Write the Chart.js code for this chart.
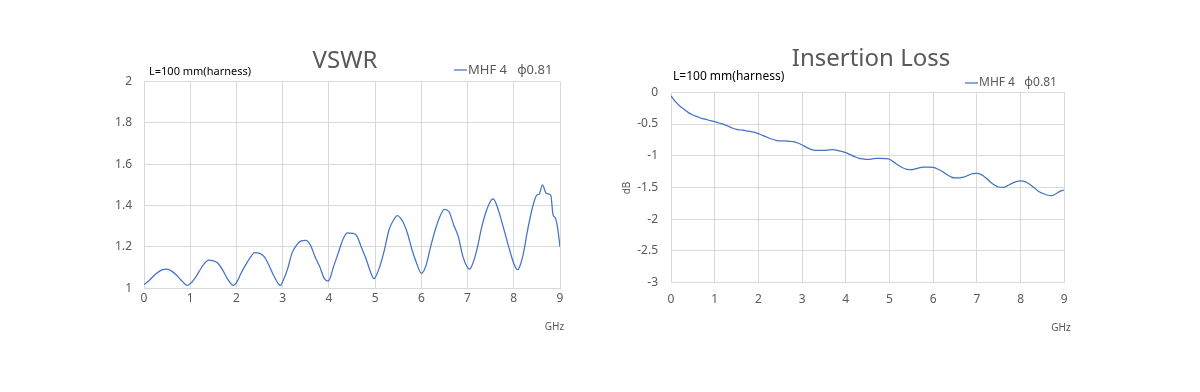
<!DOCTYPE html>
<html>
<head>
<meta charset="utf-8">
<script src="https://cdn.jsdelivr.net/npm/chart.js@4.4.1/dist/chart.umd.min.js"></script>
<style>
  body { margin: 0; background: #fff; }
  .box { position: absolute; top: 0; width: 600px; height: 392px; }
</style>
</head>
<body>
<div class="box" style="left:0"><canvas id="vswrChart" width="600" height="392"></canvas></div>
<div class="box" style="left:600px"><canvas id="lossChart" width="600" height="392"></canvas></div>
<script>
// VSWR (GHz / ratio)
const vswrFreq = [
  0, 0.1, 0.2, 0.3, 0.4, 0.5, 0.6, 0.7, 0.8, 0.9, 0.93,
  1.0, 1.1, 1.2, 1.3, 1.4, 1.5, 1.6, 1.7, 1.8, 1.9, 1.94,
  2.0, 2.1, 2.2, 2.3, 2.4, 2.5, 2.6, 2.7, 2.8, 2.9, 2.95,
  3.0, 3.1, 3.2, 3.3, 3.4, 3.5, 3.6, 3.7, 3.8, 3.9, 3.97,
  4.0, 4.1, 4.2, 4.3, 4.4, 4.5, 4.6, 4.7, 4.8, 4.9, 4.97,
  5.0, 5.1, 5.2, 5.3, 5.4, 5.48, 5.6, 5.7, 5.8, 5.9,
  6.0, 6.1, 6.2, 6.3, 6.4, 6.5, 6.6, 6.7, 6.8, 6.9,
  7.0, 7.04, 7.1, 7.2, 7.3, 7.4, 7.5, 7.55, 7.6, 7.7, 7.8, 7.9,
  8.0, 8.08, 8.1, 8.2, 8.3, 8.4, 8.5, 8.55, 8.62, 8.7, 8.8, 8.85, 8.9, 8.95, 9.0
];
const vswrValues = [
  1.018, 1.035, 1.058, 1.077, 1.090, 1.093, 1.083, 1.064, 1.040, 1.018, 1.014,
  1.022, 1.048, 1.084, 1.118, 1.136, 1.133, 1.121, 1.089, 1.048, 1.018, 1.014,
  1.027, 1.073, 1.113, 1.150, 1.172, 1.169, 1.153, 1.113, 1.064, 1.024, 1.013,
  1.032, 1.089, 1.169, 1.209, 1.229, 1.232, 1.209, 1.153, 1.105, 1.048, 1.036,
  1.038, 1.105, 1.169, 1.234, 1.268, 1.266, 1.255, 1.200, 1.145, 1.080, 1.047,
  1.052, 1.105, 1.185, 1.282, 1.330, 1.352, 1.322, 1.266, 1.185, 1.120,
  1.072, 1.109, 1.200, 1.282, 1.346, 1.382, 1.370, 1.306, 1.250, 1.153,
  1.100, 1.093, 1.113, 1.185, 1.290, 1.370, 1.422, 1.432, 1.419, 1.354, 1.274, 1.193,
  1.120, 1.090, 1.092, 1.160, 1.282, 1.387, 1.451, 1.455, 1.500, 1.460, 1.450, 1.355, 1.340, 1.290, 1.200
];

// Insertion loss (GHz / dB)
const lossFreq = [
  0, 0.1, 0.2, 0.3, 0.4, 0.5, 0.6, 0.7, 0.8, 0.9,
  1.0, 1.1, 1.2, 1.3, 1.4, 1.5, 1.6, 1.7, 1.8, 1.9,
  2.0, 2.1, 2.2, 2.3, 2.4, 2.5, 2.6, 2.7, 2.8, 2.9,
  3.0, 3.1, 3.2, 3.3, 3.4, 3.5, 3.6, 3.7, 3.8, 3.9,
  4.0, 4.1, 4.2, 4.3, 4.4, 4.5, 4.6, 4.7, 4.8, 4.9,
  5.0, 5.1, 5.2, 5.3, 5.4, 5.5, 5.6, 5.7, 5.8, 5.9,
  6.0, 6.1, 6.2, 6.3, 6.4, 6.5, 6.6, 6.7, 6.8, 6.9,
  7.0, 7.1, 7.2, 7.3, 7.4, 7.5, 7.6, 7.7, 7.8, 7.9,
  8.0, 8.1, 8.2, 8.3, 8.4, 8.5, 8.6, 8.7, 8.8, 8.9, 9.0
];
const lossValues = [
  -0.058, -0.148, -0.216, -0.268, -0.320, -0.358, -0.384, -0.410, -0.425, -0.447,
  -0.463, -0.484, -0.505, -0.531, -0.562, -0.583, -0.594, -0.605, -0.615, -0.626,
  -0.652, -0.678, -0.709, -0.736, -0.757, -0.767, -0.767, -0.772, -0.778, -0.799,
  -0.830, -0.867, -0.898, -0.914, -0.914, -0.914, -0.909, -0.903, -0.914, -0.930,
  -0.951, -0.983, -1.014, -1.040, -1.050, -1.056, -1.050, -1.040, -1.040, -1.045,
  -1.055, -1.100, -1.150, -1.188, -1.213, -1.219, -1.204, -1.188, -1.177, -1.177,
  -1.182, -1.208, -1.245, -1.292, -1.330, -1.350, -1.350, -1.335, -1.308, -1.282,
  -1.277, -1.298, -1.345, -1.408, -1.460, -1.492, -1.497, -1.471, -1.434, -1.408,
  -1.397, -1.408, -1.445, -1.497, -1.555, -1.591, -1.618, -1.629, -1.602, -1.560, -1.539
];

const xTicks = [0, 1, 2, 3, 4, 5, 6, 7, 8, 9];
const seriesName = 'MHF 4   φ0.81';
const noteText = 'L=100 mm(harness)';

const fontFamily = "'Noto Sans', sans-serif";
Chart.defaults.font.family = fontFamily;
Chart.defaults.color = '#595959';

// titles, note, legend and unit labels drawn at fixed spots
const notesPlugin = {
  id: 'notes',
  afterDraw(chart, args, opts) {
    const c = chart.ctx;
    const ds = chart.data.datasets[0];
    c.save();
    c.textBaseline = 'middle';

    c.font = opts.titleSize + 'px ' + fontFamily;
    c.fillStyle = '#595959';
    c.textAlign = 'center';
    c.fillText(opts.title, opts.titleX, opts.titleY);

    c.font = opts.noteSize + 'px ' + fontFamily;
    c.fillStyle = '#000';
    c.textAlign = 'left';
    c.fillText(noteText, opts.noteX, opts.noteY);

    c.strokeStyle = ds.borderColor;
    c.lineWidth = ds.borderWidth;
    c.beginPath();
    c.moveTo(opts.legendX, opts.legendY);
    c.lineTo(opts.legendX + 13, opts.legendY);
    c.stroke();
    c.font = opts.legendSize + 'px ' + fontFamily;
    c.fillStyle = '#595959';
    c.fillText(ds.label, opts.legendX + 14, opts.legendY);

    c.font = '10px ' + fontFamily;
    c.textAlign = 'center';
    c.fillText('GHz', opts.unitX, opts.unitY);

    if (opts.yLabel) {
      c.translate(opts.yLabelX, opts.yLabelY);
      c.rotate(-Math.PI / 2);
      c.fillText(opts.yLabel, 0, 0);
    }
    c.restore();
  }
};

function makeChart(id, freq, values, yMin, yMax, yStep, pad, yTickPad, xTickPad, notes) {
  return new Chart(document.getElementById(id), {
    type: 'line',
    data: {
      datasets: [{
        label: seriesName,
        data: freq.map((f, i) => ({ x: f, y: values[i] })),
        borderColor: '#4472C4',
        borderWidth: 1.25,
        pointRadius: 0,
        cubicInterpolationMode: 'monotone',
        fill: false
      }]
    },
    options: {
      responsive: false,
      animation: false,
      layout: { padding: pad },
      plugins: {
        legend: { display: false },
        tooltip: { enabled: false },
        notes: notes
      },
      scales: {
        x: {
          type: 'linear',
          min: 0,
          max: 9,
          afterBuildTicks: s => { s.ticks = xTicks.map(v => ({ value: v })); },
          afterFit: s => { s.height = 30; },
          grid: { color: '#d9d9d9', drawTicks: false },
          border: { color: '#d9d9d9' },
          ticks: { font: { size: 12 }, padding: xTickPad, maxRotation: 0 }
        },
        y: {
          min: yMin,
          max: yMax,
          afterFit: s => { s.width = 40; },
          grid: { color: '#d9d9d9', drawTicks: false },
          border: { display: false },
          ticks: {
            stepSize: yStep,
            font: { size: 12 },
            padding: yTickPad,
            callback: v => String(parseFloat(v.toFixed(2)))
          }
        }
      }
    },
    plugins: [notesPlugin]
  });
}

makeChart('vswrChart', vswrFreq, vswrValues, 1, 2, 0.2,
  { left: 104, right: 40, top: 81.5, bottom: 73.7 }, 12, 3,
  { title: 'VSWR', titleSize: 24, titleX: 345, titleY: 61,
    noteSize: 11, noteX: 149, noteY: 72,
    legendSize: 13, legendX: 454, legendY: 70,
    unitX: 554.5, unitY: 327 });

makeChart('lossChart', lossFreq, lossValues, -3, 0, 0.5,
  { left: 31, right: 135.7, top: 92.3, bottom: 79.3 }, 13, 10,
  { title: 'Insertion Loss', titleSize: 24, titleX: 271, titleY: 59,
    noteSize: 12, noteX: 73, noteY: 77,
    legendSize: 12, legendX: 365, legendY: 83,
    unitX: 461, unitY: 328,
    yLabel: 'dB', yLabelX: 27, yLabelY: 188 });
</script>
</body>
</html>
